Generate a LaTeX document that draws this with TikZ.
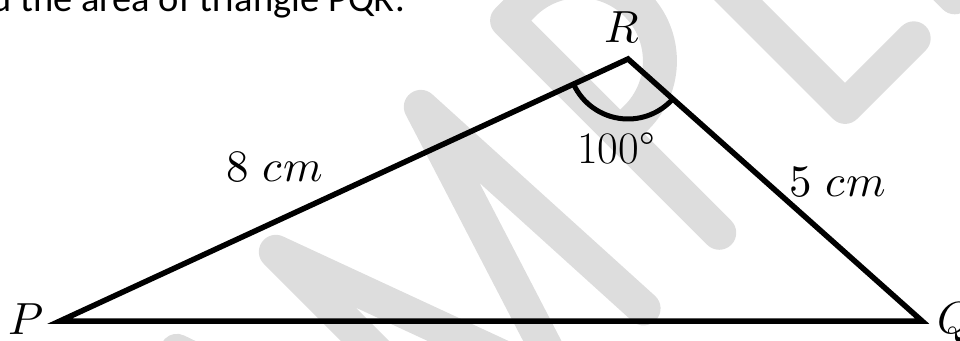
\documentclass[tikz,border=0pt]{standalone}
\usepackage{fontspec}
\usepackage{unicode-math}
\newfontfamily\taskfont{Carlito}
\definecolor{wmgray}{HTML}{DDDDDD}

\begin{document}
\begin{tikzpicture}[
  x=1pt, y=1pt,
  side/.style={line width=5.5pt, line join=miter},
  lbl/.style={inner sep=0pt, font=\fontsize{45}{54}\selectfont},
  wmstroke/.style={draw=wmgray, line width=34pt, line cap=round, line join=round}
]
  \useasboundingbox (0,0) rectangle (960,340);

  % watermark
  \begin{scope}[shift={(488,-124)}, rotate=45]
    \draw[wmstroke] (-245,0) -- (-140,300) -- (-35,0);
    \draw[wmstroke] (0,0) -- (0,300) -- (110,0) -- (205,300) -- (220,0);
    \draw[wmstroke] (327,0) -- (327,300) -- (350,300)
      arc[start angle=90, end angle=-90, radius=80] -- (327,140);
    \draw[wmstroke] (505,300) -- (505,0) -- (602,0);
    \draw[wmstroke] (800,300) -- (660,300) -- (660,0) -- (800,0);
  \end{scope}

  \node[anchor=base east, inner sep=0pt, font=\taskfont\fontsize{38.5}{46}\selectfont]
    (task) at (405,328) {d the area of triangle PQR.};

  \coordinate (P) at (60,19);
  \coordinate (Q) at (922,19);
  \coordinate (R) at (628,281);
  \draw[side] (P) -- (Q) -- (R) -- cycle;
  \draw[line width=5pt] ([shift={(204.8:60)}]R) arc[start angle=204.8, end angle=318.3, radius=60];

  \node[lbl] (labP) at (26,21) {$P$};
  \node[lbl] (labQ) at (955,18) {$Q$};
  \node[lbl] (labR) at (622,312) {$R$};
  \node[lbl] (angR) at (616,192) {100°};
  \node[lbl] (sidePR) at (275,173) {$8\ cm$};
  \node[lbl] (sideQR) at (838,158) {$5\ cm$};
\end{tikzpicture}
\end{document}
